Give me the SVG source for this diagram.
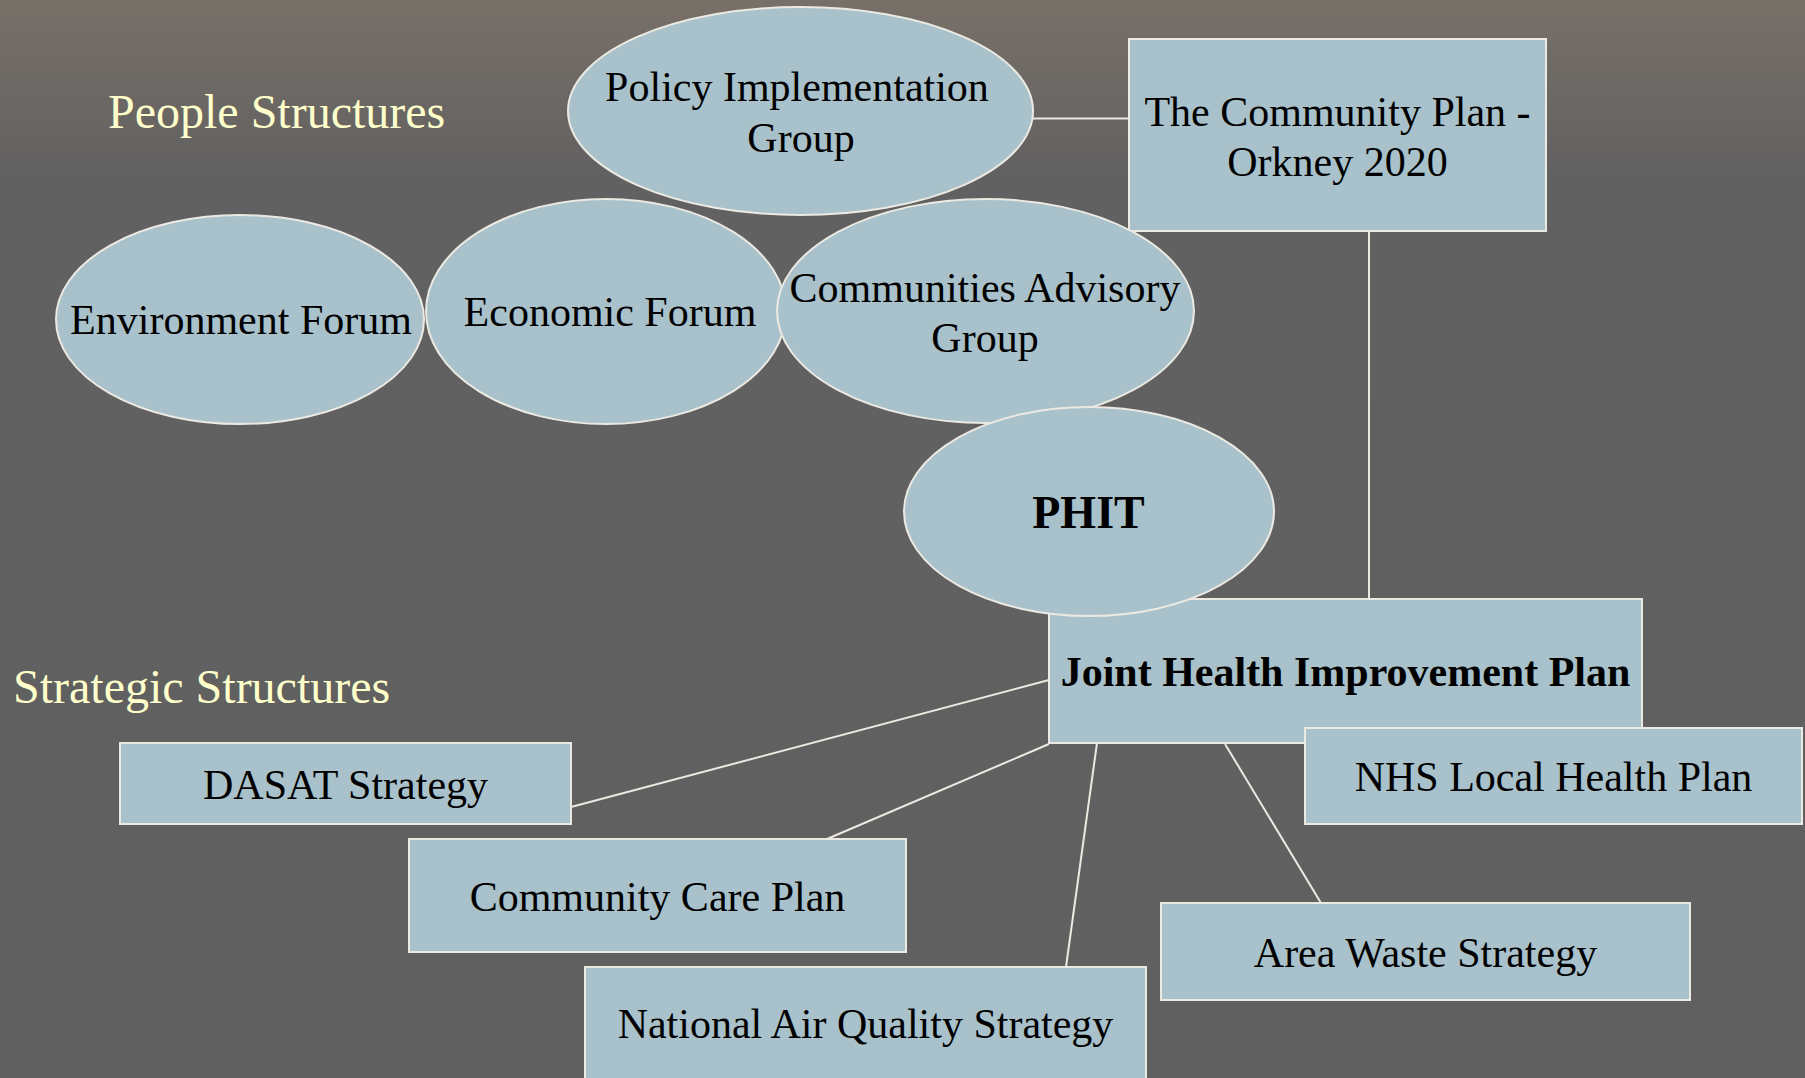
<svg xmlns="http://www.w3.org/2000/svg" width="1805" height="1078" viewBox="0 0 1805 1078">
<defs>
<linearGradient id="bg" x1="0" y1="0" x2="0" y2="1078" gradientUnits="userSpaceOnUse">
<stop offset="0" stop-color="#787068"/>
<stop offset="0.16" stop-color="#626161"/>
<stop offset="1" stop-color="#606060"/>
</linearGradient>
</defs>
<style>
.n{fill:#a8c1ca;stroke:#ebe9e1;stroke-width:2}
.t{font-family:"Liberation Serif","Times New Roman",serif;font-size:42px;fill:#000;text-anchor:middle}
.b{font-weight:bold}
.h{font-family:"Liberation Serif","Times New Roman",serif;font-size:48px;fill:#ffffcc}
.c{stroke:#ebe9e1;stroke-width:2;fill:none}
</style>
<rect x="0" y="0" width="1805" height="1078" fill="url(#bg)"/>
<text class="h" x="108" y="128">People Structures</text>
<text class="h" x="13" y="703">Strategic Structures</text>
<g id="connectors">
<line class="c" x1="1033" y1="118.5" x2="1129" y2="118.5"/>
<line class="c" x1="1369" y1="231" x2="1369" y2="599"/>
<line class="c" x1="1049" y1="680" x2="571" y2="807"/>
<line class="c" x1="1049" y1="744" x2="827" y2="839"/>
<line class="c" x1="1097" y1="743" x2="1066" y2="967"/>
<line class="c" x1="1225" y1="744" x2="1321" y2="903"/>
</g>
<g id="community-plan">
<rect class="n" x="1129" y="39" width="417" height="192"/>
<text class="t" x="1337.5" y="126">The Community Plan -</text>
<text class="t" x="1337.5" y="176">Orkney 2020</text>
</g>
<g id="environment-forum">
<ellipse class="n" cx="240" cy="319.5" rx="184" ry="104.5"/>
<text class="t" x="241" y="334">Environment Forum</text>
</g>
<g id="economic-forum">
<ellipse class="n" cx="606" cy="311.5" rx="180" ry="112.5"/>
<text class="t" x="610" y="326">Economic Forum</text>
</g>
<g id="communities-advisory">
<ellipse class="n" cx="985.5" cy="311" rx="208.5" ry="112"/>
<text class="t" x="985" y="302">Communities Advisory</text>
<text class="t" x="985" y="352">Group</text>
</g>
<g id="policy-implementation">
<ellipse class="n" cx="800.5" cy="111" rx="232.5" ry="104"/>
<text class="t" x="797" y="101">Policy Implementation</text>
<text class="t" x="801" y="152">Group</text>
</g>
<g id="jhip">
<rect class="n" x="1049" y="599" width="593" height="144"/>
<text class="t b" x="1345.5" y="686">Joint Health Improvement Plan</text>
</g>
<g id="phit">
<ellipse class="n" cx="1089" cy="511.5" rx="185" ry="104.5"/>
<text class="t b" x="1088.5" y="528" style="font-size:46px">PHIT</text>
</g>
<g id="nhs">
<rect class="n" x="1305" y="728" width="497" height="96"/>
<text class="t" x="1553.5" y="791">NHS Local Health Plan</text>
</g>
<g id="dasat">
<rect class="n" x="120" y="743" width="451" height="81"/>
<text class="t" x="345.5" y="799">DASAT Strategy</text>
</g>
<g id="community-care">
<rect class="n" x="409" y="839" width="497" height="113"/>
<text class="t" x="657.5" y="911">Community Care Plan</text>
</g>
<g id="area-waste">
<rect class="n" x="1161" y="903" width="529" height="97"/>
<text class="t" x="1425.5" y="967">Area Waste Strategy</text>
</g>
<g id="national-air">
<rect class="n" x="585" y="967" width="561" height="130"/>
<text class="t" x="865.5" y="1038">National Air Quality Strategy</text>
</g>
</svg>
